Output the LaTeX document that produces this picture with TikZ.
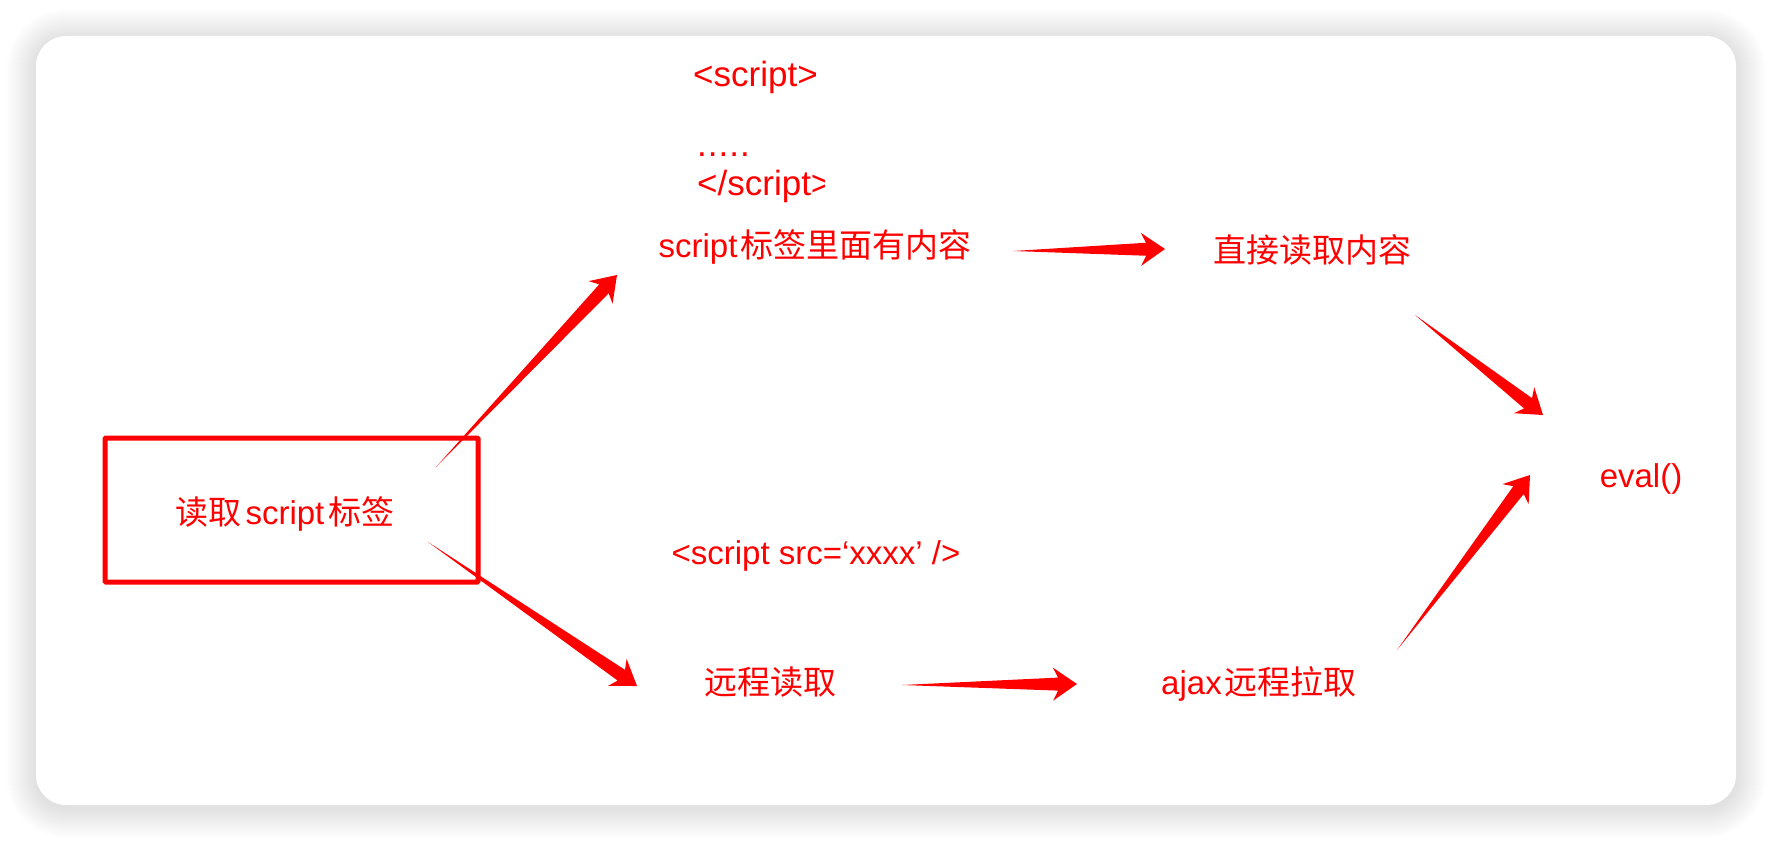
\documentclass[tikz,border=0pt]{standalone}
\usepackage{fontspec}
\setmainfont{Liberation Sans}
\newfontfamily\cjk{Noto Sans CJK SC}
\usetikzlibrary{calc}
\definecolor{rd}{RGB}{255,0,0}
\tikzset{
  lab/.style={text=rd, font=\fontsize{33}{39}\selectfont, inner sep=0pt},
  code/.style={text=rd, font=\fontsize{35}{41}\selectfont, inner sep=0pt},
  arr/.style={fill=rd},
  boxst/.style={draw=rd, line width=5pt, rounded corners=1pt}
}
\newcommand\wedgearrow[2]{%
  \coordinate (nk) at ($(#2)!19pt!(#1)$);
  \coordinate (bb) at ($(#2)!24pt!(#1)$);
  \fill[arr] (#1) -- ($(nk)!6.5pt!90:(#2)$) -- ($(bb)!16.5pt!90:(#2)$) -- (#2)
    -- ($(bb)!16.5pt!-90:(#2)$) -- ($(nk)!6.5pt!-90:(#2)$) -- cycle;}
\begin{document}
\begin{tikzpicture}[x=1pt,y=-1pt]
\useasboundingbox (0,0) rectangle (1772,842);
\fill[white] (0,0) rectangle (1772,842);
% shadow
\foreach \i in {1,...,30}{
  \pgfmathsetmacro\rr{30+\i}
  \fill[black,opacity=0.005,rounded corners=\rr pt] ({36-\i},{39-\i}) rectangle ({1736+\i},{808+\i});
}
% card
\fill[white, rounded corners=30pt] (36,36) rectangle (1736,805);

% box
\draw[boxst] (105,438) rectangle (478,582);
\node[lab] (read) at (285,514) {{\cjk 读取}\hspace{4pt}script\hspace{4pt}{\cjk 标签}};

% code snippet
\node[code, anchor=west] (open) at (693,77) {<script>};
\node[code, anchor=base west] (dots) at (697,157) {.\hspace{1pt}.\hspace{1pt}.\hspace{1pt}.\hspace{1pt}.};
\begin{scope}
  \clip (690,160) rectangle (824,215);
  \node[code, anchor=west] (close) at (697,186) {</script>};
\end{scope}

\node[lab] (inner) at (815,247) {script\hspace{3pt}{\cjk 标签里面有内容}};
\node[lab] (direct) at (1312,250) {\cjk 直接读取内容};
\node[lab] (eval) at (1641,479) {eval()};
\node[lab] (src) at (816,556) {<script src=‘xxxx’ />};
\node[lab] (remote) at (770,682) {\cjk 远程读取};
\node[lab] (ajax) at (1259,684) {ajax\hspace{3pt}{\cjk 远程拉取}};

% arrows
\coordinate (a1t) at (436,467); \coordinate (a1h) at (617,275);
\coordinate (a2t) at (1013,251); \coordinate (a2h) at (1165,249);
\coordinate (a3t) at (1415,315); \coordinate (a3h) at (1543,415);
\coordinate (a4t) at (1397,650); \coordinate (a4h) at (1530,475);
\coordinate (a5t) at (428,542); \coordinate (a5h) at (637,686);
\coordinate (a6t) at (902,685); \coordinate (a6h) at (1077,684);
\wedgearrow{a1t}{a1h}
\wedgearrow{a2t}{a2h}
\wedgearrow{a3t}{a3h}
\wedgearrow{a4t}{a4h}
\wedgearrow{a5t}{a5h}
\wedgearrow{a6t}{a6h}
\end{tikzpicture}
\end{document}
